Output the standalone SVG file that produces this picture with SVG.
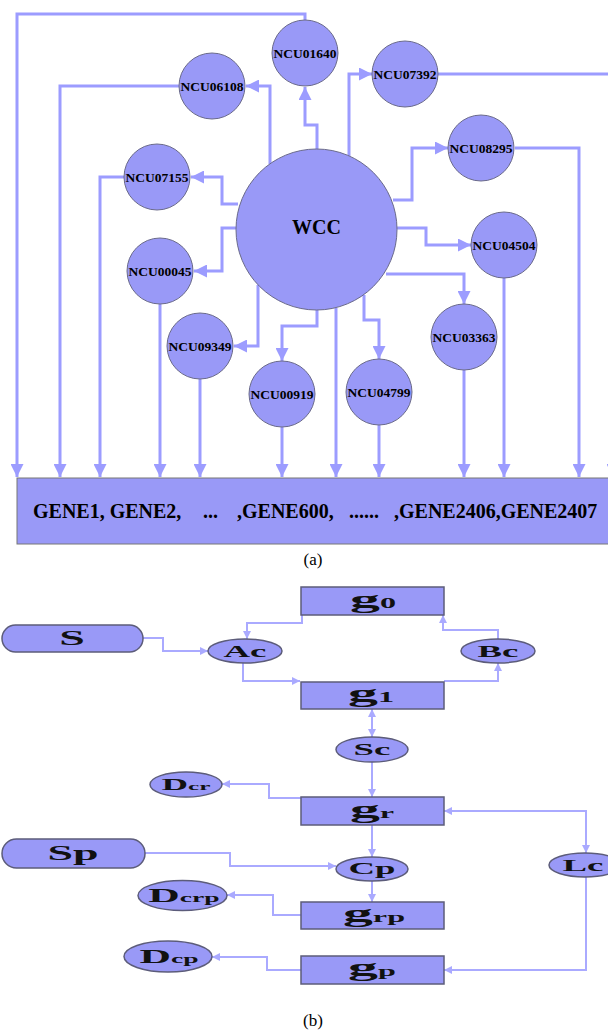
<svg xmlns="http://www.w3.org/2000/svg" width="608" height="1031" viewBox="0 0 608 1031">
<style>
.n{fill:#9999f7;stroke:#6a6a8a;stroke-width:1}
.t{font-family:"Liberation Serif","Times New Roman",serif;font-weight:bold;font-size:13.5px;text-anchor:middle;fill:#000}
.c{fill:none;stroke:#9c9cff;stroke-width:3;marker-end:url(#ah)}
.c2{fill:none;stroke:#aaaaff;stroke-width:2;marker-end:url(#ah2)}
.bx{fill:#9999f7;stroke:#5c5c7a;stroke-width:1.5}
.bt{font-family:"Liberation Serif","Times New Roman",serif;font-weight:bold;text-anchor:middle;fill:#111}
.cap{font-family:"Liberation Serif","Times New Roman",serif;font-size:17px;text-anchor:middle;fill:#000}
</style>
<defs>
<marker id="ah" viewBox="0 0 10 10" refX="10" refY="5" markerWidth="14" markerHeight="13" markerUnits="userSpaceOnUse" orient="auto"><path d="M0,0 L10,5 L0,10 z" fill="#9c9cff"/></marker>
<marker id="ah2" viewBox="0 0 10 10" refX="10" refY="5" markerWidth="9" markerHeight="8" markerUnits="userSpaceOnUse" orient="auto-start-reverse"><path d="M0,0 L10,5 L0,10 z" fill="#aaaaff"/></marker>
</defs>
<rect width="608" height="1031" fill="#fff"/>

<g id="connectors">
<path class="c" d="M305,20 V14 H17 V477"/>
<path class="c" d="M317,149 V125 H305 V87"/>
<path class="c" d="M270,164 V86 H246"/>
<path class="c" d="M179,86 H60 V477"/>
<path class="c" d="M238,204 H222 V177 H191"/>
<path class="c" d="M124,177 H100 V477"/>
<path class="c" d="M236,228 H222 V271 H194"/>
<path class="c" d="M160,304 V477"/>
<path class="c" d="M258,285 V346 H234"/>
<path class="c" d="M200,379 V477"/>
<path class="c" d="M317,310 V326 H282 V361"/>
<path class="c" d="M282,427 V477"/>
<path class="c" d="M336,308 V477"/>
<path class="c" d="M364,295 V320 H379 V359"/>
<path class="c" d="M379,425 V477"/>
<path class="c" d="M386,274 H464 V304"/>
<path class="c" d="M464,370 V477"/>
<path class="c" d="M397,228 H426 V245 H471"/>
<path class="c" d="M504,278 V477"/>
<path class="c" d="M393,200 H412 V148 H448"/>
<path class="c" d="M515,148 H579 V477"/>
<path class="c" d="M349,156 V74 H372"/>
<path class="c" d="M438,74 H613 V477"/>

<path class="c2" d="M143,638 H163 V651 H208"/>
<path class="c2" d="M302,615 V623 H247 V639"/>
<path class="c2" d="M243,663 V681 H300"/>
<path class="c2" d="M444,681 H498 V663"/>
<path class="c2" d="M498,639 V630 H443 V615"/>
<path class="c2" d="M372,709 V737" marker-start="url(#ah2)"/>
<path class="c2" d="M372,762 V797"/>
<path class="c2" d="M301,798 H269 V784 H222"/>
<path class="c2" d="M444,811 H586 V853" marker-start="url(#ah2)"/>
<path class="c2" d="M145,853 H230 V866 H336"/>
<path class="c2" d="M372,825 V857"/>
<path class="c2" d="M372,881 V902"/>
<path class="c2" d="M301,915 H273 V895 H227"/>
<path class="c2" d="M301,970 H267 V957 H212"/>
<path class="c2" d="M586,877 V970 H444"/>
</g>

<g id="NCU01640"><circle class="n" cx="305" cy="53" r="33"/><text class="t" x="305" y="57.5">NCU01640</text></g>
<g id="NCU06108"><circle class="n" cx="212" cy="86" r="33"/><text class="t" x="212" y="90.5">NCU06108</text></g>
<g id="NCU07392"><circle class="n" cx="405" cy="74" r="33"/><text class="t" x="405" y="78.5">NCU07392</text></g>
<g id="NCU08295"><circle class="n" cx="481" cy="148" r="33"/><text class="t" x="481" y="152.5">NCU08295</text></g>
<g id="NCU07155"><circle class="n" cx="157" cy="177" r="33"/><text class="t" x="157" y="181.5">NCU07155</text></g>
<g id="WCC"><circle class="n" cx="316.5" cy="229.5" r="80.5"/><text class="t" x="316.5" y="234" style="font-size:20px">WCC</text></g>
<g id="NCU00045"><circle class="n" cx="160" cy="271" r="33"/><text class="t" x="160" y="275.5">NCU00045</text></g>
<g id="NCU04504"><circle class="n" cx="504" cy="245" r="33"/><text class="t" x="504" y="249.5">NCU04504</text></g>
<g id="NCU09349"><circle class="n" cx="200" cy="346" r="33"/><text class="t" x="200" y="350.5">NCU09349</text></g>
<g id="NCU03363"><circle class="n" cx="464" cy="337" r="33"/><text class="t" x="464" y="341.5">NCU03363</text></g>
<g id="NCU00919"><circle class="n" cx="282" cy="394" r="33"/><text class="t" x="282" y="398.5">NCU00919</text></g>
<g id="NCU04799"><circle class="n" cx="379" cy="392" r="33"/><text class="t" x="379" y="396.5">NCU04799</text></g>

<g id="GENES">
<rect x="17" y="478" width="600" height="66" fill="#9999f7" stroke="#777" stroke-width="1"/>
<g style="font-family:'Liberation Serif','Times New Roman',serif;font-weight:bold;font-size:20px;fill:#000">
<text x="33" y="518">GENE1, GENE2,</text>
<text x="203" y="518">...</text>
<text x="237" y="518">,GENE600,</text>
<text x="349" y="518">......</text>
<text x="394" y="518">,GENE2406,GENE2407</text>
</g>
</g>
<text class="cap" x="313" y="565">(a)</text>

<g id="g0"><rect class="bx" x="301" y="587" width="143" height="28"/><text class="bt" transform="translate(373,608) scale(2.3,1)"><tspan font-size="26">g</tspan><tspan font-size="14">0</tspan></text></g>
<g id="S"><rect class="bx" x="2" y="625" width="141" height="27" rx="13.5"/><text class="bt" transform="translate(72,645) scale(2.3,1)" font-size="20">S</text></g>
<g id="Ac"><ellipse class="bx" cx="245" cy="651" rx="37" ry="12"/><text class="bt" transform="translate(245,656.5) scale(2.3,1)" font-size="16">Ac</text></g>
<g id="Bc"><ellipse class="bx" cx="498" cy="651" rx="37" ry="12"/><text class="bt" transform="translate(498,656.5) scale(2.3,1)" font-size="16">Bc</text></g>
<g id="g1"><rect class="bx" x="301" y="682" width="143" height="27"/><text class="bt" transform="translate(371,702) scale(2.3,1)"><tspan font-size="26">g</tspan><tspan font-size="14">1</tspan></text></g>
<g id="Sc"><ellipse class="bx" cx="372" cy="749.5" rx="36" ry="12.5"/><text class="bt" transform="translate(372,755) scale(2.3,1)" font-size="16">Sc</text></g>
<g id="Dcr"><ellipse class="bx" cx="186" cy="784.5" rx="36" ry="12.5"/><text class="bt" transform="translate(186,790) scale(2.3,1)"><tspan font-size="16">D</tspan><tspan font-size="11">cr</tspan></text></g>
<g id="gr"><rect class="bx" x="301" y="797" width="143" height="28"/><text class="bt" transform="translate(372,818) scale(2.3,1)"><tspan font-size="26">g</tspan><tspan font-size="14">r</tspan></text></g>
<g id="Sp"><rect class="bx" x="2" y="839" width="143" height="29" rx="14.5"/><text class="bt" transform="translate(73,860) scale(2.3,1)" font-size="20">Sp</text></g>
<g id="Cp"><ellipse class="bx" cx="372" cy="869" rx="36" ry="12"/><text class="bt" transform="translate(372,874) scale(2.3,1)" font-size="16">Cp</text></g>
<g id="Lc"><ellipse class="bx" cx="585" cy="865" rx="36" ry="12"/><text class="bt" transform="translate(583,870.5) scale(2.3,1)" font-size="16">Lc</text></g>
<g id="Dcrp"><ellipse class="bx" cx="182.5" cy="895.5" rx="44.5" ry="15"/><text class="bt" transform="translate(184,902) scale(2.3,1)"><tspan font-size="19">D</tspan><tspan font-size="12">crp</tspan></text></g>
<g id="grp"><rect class="bx" x="301" y="902" width="143" height="27"/><text class="bt" transform="translate(374,922) scale(2.3,1)"><tspan font-size="26">g</tspan><tspan font-size="14">rp</tspan></text></g>
<g id="Dcp"><ellipse class="bx" cx="168" cy="956.5" rx="44" ry="15.5"/><text class="bt" transform="translate(169,963) scale(2.3,1)"><tspan font-size="19">D</tspan><tspan font-size="12">cp</tspan></text></g>
<g id="gp"><rect class="bx" x="301" y="956" width="143" height="28"/><text class="bt" transform="translate(372,976) scale(2.3,1)"><tspan font-size="26">g</tspan><tspan font-size="14">p</tspan></text></g>
<text class="cap" x="313" y="1026">(b)</text>
</svg>
